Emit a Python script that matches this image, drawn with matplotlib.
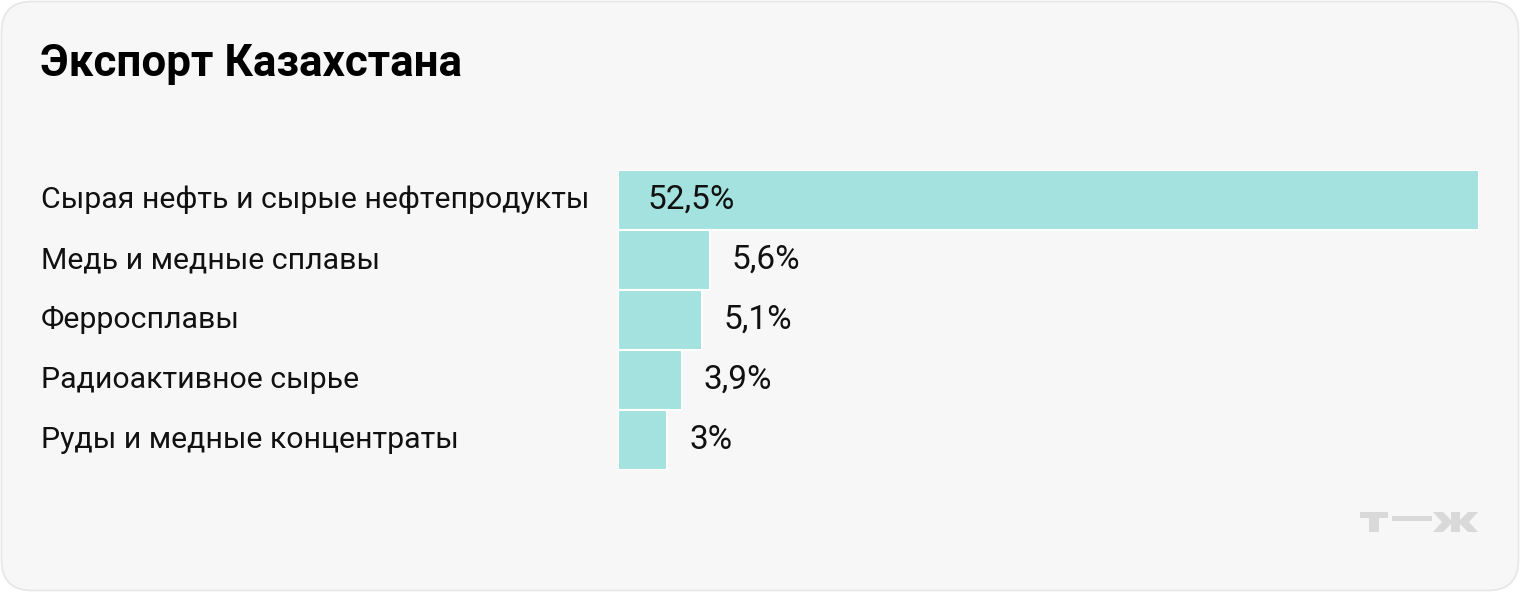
#!/usr/bin/env python3
"""
Kazakhstan export structure, horizontal bar chart.
"""
import matplotlib
matplotlib.use("Agg")
import matplotlib.pyplot as plt
from matplotlib.patches import FancyBboxPatch, Polygon, Rectangle

# Data
categories = [
    "Сырая нефть и сырые нефтепродукты",
    "Медь и медные сплавы",
    "Ферросплавы",
    "Радиоактивное сырье",
    "Руды и медные концентраты",
]
shares = [52.5, 5.6, 5.1, 3.9, 3.0]
value_labels = ["52,5%", "5,6%", "5,1%", "3,9%", "3%"]

TITLE = "Экспорт Казахстана"

W, H = 1520, 592
BG = "#f7f7f7"
BAR = "#a3e2de"
LOGO_C = "#d9d9d9"
FS = 21.8
FS_VAL = 24

plt.rcParams["font.family"] = ["Roboto", "DejaVu Sans"]

fig = plt.figure(figsize=(W / 100, H / 100), dpi=100)
fig.patch.set_facecolor("white")

# rounded card background
card = FancyBboxPatch((1.5 / W, 1.5 / H), (W - 3) / W, (H - 3) / H,
                      boxstyle="round,pad=0,rounding_size=0.02",
                      transform=fig.transFigure, facecolor=BG,
                      edgecolor="#e6e6e6", linewidth=1.2,
                      mutation_aspect=W / H, zorder=-10)
fig.patches.append(card)


def fx(px):
    return px / W


def fy(py):
    return 1 - py / H


fig.text(fx(40), fy(64), TITLE, fontsize=31.7, fontweight="bold",
         va="center", ha="left", color="black")

# bar area in pixels
left_px, right_px = 618, 1479
top_px, bottom_px = 170, 470
ax = fig.add_axes([fx(left_px), fy(bottom_px),
                   fx(right_px - left_px), (bottom_px - top_px) / H])
ax.set_facecolor("none")
ax.set_xlim(0, max(shares))
ax.set_ylim(len(shares) - 0.5, -0.5)

ypos = list(range(len(shares)))
ax.barh(ypos, shares, height=1.0, color=BAR, edgecolor="white",
        linewidth=1.5, left=0)

for y, v, lab in zip(ypos, shares, value_labels):
    if v > 20:
        ax.annotate(lab, (0, y), xytext=(30, 0), textcoords="offset pixels",
                    va="center", ha="left", fontsize=FS_VAL, color="#111111")
    else:
        ax.annotate(lab, (v, y), xytext=(22, 0), textcoords="offset pixels",
                    va="center", ha="left", fontsize=FS_VAL, color="#111111")

for y, cat in zip(ypos, categories):
    yy = top_px + 30 + 60 * y
    fig.text(fx(41), fy(yy), cat, fontsize=FS, va="center", ha="left",
             color="#111111")

ax.axis("off")

# logo "т—ж" drawn as shapes in pixel coordinates
lx = fig.add_axes([0, 0, 1, 1])
lx.set_xlim(0, W)
lx.set_ylim(H, 0)
lx.axis("off")
lx.set_facecolor("none")
logo_parts = [
    Rectangle((1360, 512), 28, 6),          # т crossbar
    Rectangle((1369, 512), 10, 20),         # т stem
    Rectangle((1392, 516), 40, 5),          # dash
    Rectangle((1451, 512), 9, 20),          # ж stem
    Polygon([(1433, 512), (1443, 512), (1451, 520), (1451, 524),
             (1443, 532), (1433, 532), (1442, 522)]),
    Polygon([(1478, 512), (1468, 512), (1460, 520), (1460, 524),
             (1468, 532), (1478, 532), (1469, 522)]),
]
for p in logo_parts:
    p.set_facecolor(LOGO_C)
    p.set_edgecolor("none")
    lx.add_patch(p)

fig.savefig("out.png", dpi=100, facecolor=fig.get_facecolor())
